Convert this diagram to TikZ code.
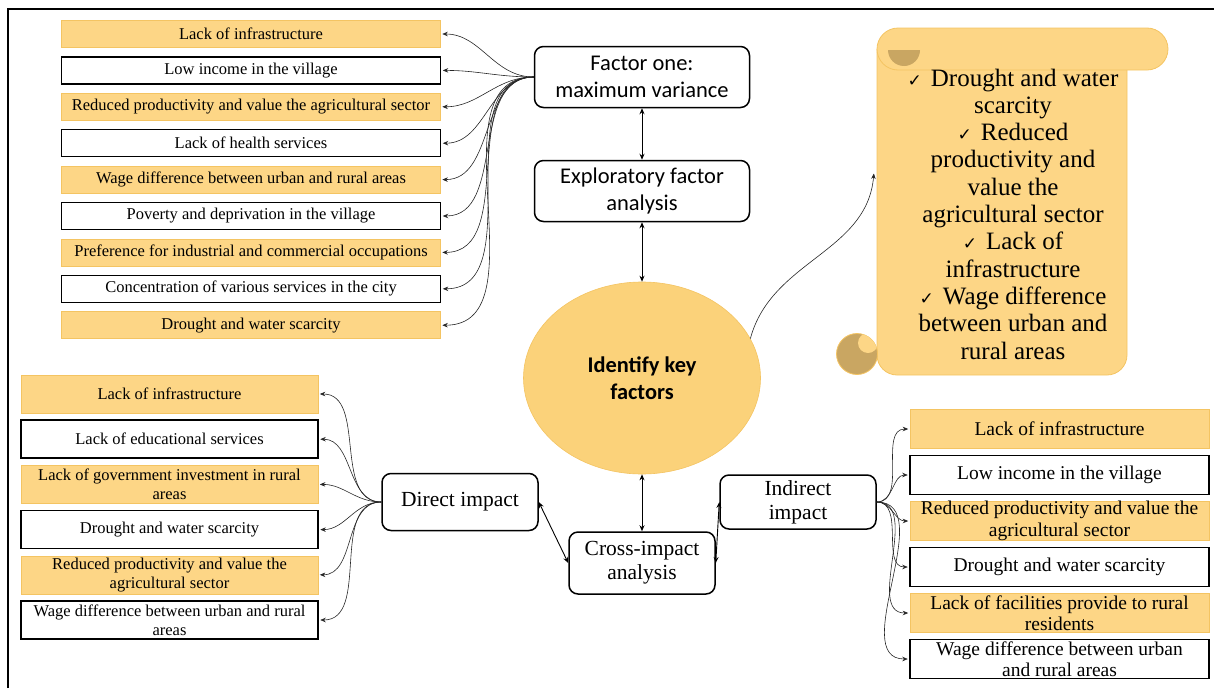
\documentclass[tikz,border=0pt]{standalone}
\usepackage{fontspec}
\setmainfont{Liberation Serif}
\newfontfamily\calib{Carlito}
\newfontfamily\symfont{DejaVu Sans}
\usepackage{tikz}
\usetikzlibrary{shapes.geometric, arrows.meta}
\definecolor{boxfill}{RGB}{253,214,134}
\definecolor{boxline}{RGB}{244,196,98}
\definecolor{keyfill}{RGB}{251,210,122}
\definecolor{scrolldark}{RGB}{201,166,98}
\newcommand{\chk}{{\symfont\fontsize{17}{17}\selectfont ✓}\hspace{9pt}}
\tikzstyle{hub} = [rectangle, rounded corners=9pt, 
draw=black, 
line width=1.5pt, 
fill=white, 
align=center, 
inner sep=0pt]
\tikzstyle{sanshub} = [hub, font=\calib\fontsize{22.5}{27}\selectfont, 
minimum width=215pt, 
minimum height=61pt]
\tikzstyle{serifhub} = [hub, font=\fontsize{21.5}{24}\selectfont]
\tikzstyle{tlbox} = [rectangle, inner sep=0pt, align=center, 
minimum width=379pt, 
minimum height=27pt, 
font=\fontsize{16.5}{19}\selectfont]
\tikzstyle{blbox} = [rectangle, inner sep=0pt, align=center, 
minimum width=297pt, 
minimum height=38pt, 
font=\fontsize{16.5}{19}\selectfont]
\tikzstyle{rbox} = [rectangle, inner sep=0pt, align=center, 
minimum width=299pt, 
minimum height=39pt, 
font=\fontsize{19.5}{21.5}\selectfont]
\tikzstyle{orangebox} = [fill=boxfill, draw=boxline, line width=0.6pt]
\tikzstyle{whitebox} = [fill=white, draw=black, line width=1.5pt]
\tikzstyle{arrow} = [black!85, line width=0.6pt, -{Stealth[length=5.5pt,width=4.5pt]}, shorten >=1.5pt]
\tikzstyle{dblarrow} = [black, line width=0.9pt, {Stealth[length=6pt,width=5pt]}-{Stealth[length=6pt,width=5pt]}]
\tikzstyle{scrolltxt} = [align=center, font=\fontsize{25}{27.3}\selectfont]

\begin{document}
\begin{tikzpicture}[x=1pt, y=-1pt]
\useasboundingbox (0,0) rectangle (1214,688);

% frame
\draw [line width=1.5pt] (8,688) -- (8,9) -- (1214,9);

% centre chain
\node (f1) [sanshub] at (642,77) {Factor one:\\maximum variance};
\node (efa) [sanshub] at (642,191) {Exploratory factor\\analysis};
\node (key) [ellipse, fill=keyfill, draw=boxline, line width=0.6pt, minimum width=237pt, minimum height=192pt, align=center, font=\calib\bfseries\fontsize{22.4}{27}\selectfont] at (642,378) {Identify key\\factors};
\node (cia) [serifhub, minimum width=146pt, minimum height=62pt] at (642,563) {Cross-impact\\analysis};
\node (direct) [serifhub, minimum width=156pt, minimum height=57pt] at (460,502) {Direct impact};
\node (indirect) [serifhub, minimum width=156pt, minimum height=54pt] at (798,502) {Indirect\\impact};

% factor one list
\node (tl1) [tlbox, orangebox] at (251,34) {Lack of infrastructure};
\node (tl2) [tlbox, whitebox, node distance=36.4pt, below of=tl1] {Low income in the village};
\node (tl3) [tlbox, orangebox, node distance=36.4pt, below of=tl2] {Reduced productivity and value the agricultural sector};
\node (tl4) [tlbox, whitebox, node distance=36.4pt, below of=tl3] {Lack of health services};
\node (tl5) [tlbox, orangebox, node distance=36.4pt, below of=tl4] {Wage difference between urban and rural areas};
\node (tl6) [tlbox, whitebox, node distance=36.4pt, below of=tl5] {Poverty and deprivation in the village};
\node (tl7) [tlbox, orangebox, node distance=36.4pt, below of=tl6] {Preference for industrial and commercial occupations};
\node (tl8) [tlbox, whitebox, node distance=36.4pt, below of=tl7] {Concentration of various services in the city};
\node (tl9) [tlbox, orangebox, node distance=36.4pt, below of=tl8] {Drought and water scarcity};

% direct impact list
\node (bl1) [blbox, orangebox] at (169.5,394) {Lack of infrastructure};
\node (bl2) [blbox, whitebox, node distance=45.2pt, below of=bl1] {Lack of educational services};
\node (bl3) [blbox, orangebox, node distance=45.2pt, below of=bl2] {Lack of government investment in rural\\areas};
\node (bl4) [blbox, whitebox, node distance=45.2pt, below of=bl3] {Drought and water scarcity};
\node (bl5) [blbox, orangebox, node distance=45.2pt, below of=bl4] {Reduced productivity and value the\\agricultural sector};
\node (bl6) [blbox, whitebox, node distance=45.2pt, below of=bl5] {Wage difference between urban and rural\\areas};

% indirect impact list
\node (r1) [rbox, orangebox] at (1059.5,429) {Lack of infrastructure};
\node (r2) [rbox, whitebox, node distance=46pt, below of=r1] {Low income in the village};
\node (r3) [rbox, orangebox, node distance=46pt, below of=r2] {Reduced productivity and value the\\agricultural sector};
\node (r4) [rbox, whitebox, node distance=46pt, below of=r3] {Drought and water scarcity};
\node (r5) [rbox, orangebox, node distance=46pt, below of=r4] {Lack of facilities provide to rural\\residents};
\node (r6) [rbox, whitebox, node distance=46pt, below of=r5] {Wage difference between urban\\and rural areas};

% scroll
\filldraw [fill=boxfill, draw=boxline, line width=0.8pt, rounded corners=20pt] (877,49) -- (877,375) -- (1127,375) -- (1127,60);
\filldraw [fill=boxfill, draw=boxline, line width=0.8pt, rounded corners=21pt] (877,28) rectangle (1168,70);
\fill [scrolldark] (888,50) -- (920,50) arc[start angle=0, end angle=-180, radius=16pt] -- cycle;
\filldraw [fill=scrolldark, draw=boxline, line width=0.8pt] (857,354) circle (20.5pt);
\begin{scope}
\clip (857,354) circle (20.5pt);
\fill [boxfill] (868,343) circle (10pt);
\end{scope}
\node (scroll) [scrolltxt] at (1013,214) {\chk Drought and water\\scarcity\\\chk Reduced\\productivity and\\value the\\agricultural sector\\\chk Lack of\\infrastructure\\\chk Wage difference\\between urban and\\rural areas};
\coordinate (scrollin) at (874,172);

% connectors
\draw [dblarrow] (f1) -- (efa);
\draw [dblarrow] (efa) -- (key);
\draw [dblarrow] (key) -- (cia);
\draw [dblarrow] (direct.east) -- (cia.west);
\draw [dblarrow] (cia.east) -- (indirect.west);
\draw [arrow] (key.20) to[out=75,in=-95] (scrollin);

\draw [arrow] (f1.west) to[out=180,in=0] (tl1.east);
\draw [arrow] (f1.west) to[out=180,in=0] (tl2.east);
\draw [arrow] (f1.west) to[out=180,in=0] (tl3.east);
\draw [arrow] (f1.west) to[out=180,in=0] (tl4.east);
\draw [arrow] (f1.west) to[out=180,in=0] (tl5.east);
\draw [arrow] (f1.west) to[out=180,in=0] (tl6.east);
\draw [arrow] (f1.west) to[out=180,in=0] (tl7.east);
\draw [arrow] (f1.west) to[out=180,in=0] (tl8.east);
\draw [arrow] (f1.west) to[out=180,in=0] (tl9.east);

\draw [arrow] (direct.west) to[out=180,in=0] (bl1.east);
\draw [arrow] (direct.west) to[out=180,in=0] (bl2.east);
\draw [arrow] (direct.west) to[out=180,in=0] (bl3.east);
\draw [arrow] (direct.west) to[out=180,in=0] (bl4.east);
\draw [arrow] (direct.west) to[out=180,in=0] (bl5.east);
\draw [arrow] (direct.west) to[out=180,in=0] (bl6.east);

\draw [arrow] (indirect.east) to[out=0,in=180] (r1.west);
\draw [arrow] (indirect.east) to[out=0,in=180] (r2.west);
\draw [arrow] (indirect.east) to[out=0,in=180] (r3.west);
\draw [arrow] (indirect.east) to[out=0,in=180] (r4.west);
\draw [arrow] (indirect.east) to[out=0,in=180] (r5.west);
\draw [arrow] (indirect.east) to[out=0,in=180] (r6.west);

\end{tikzpicture}
\end{document}
